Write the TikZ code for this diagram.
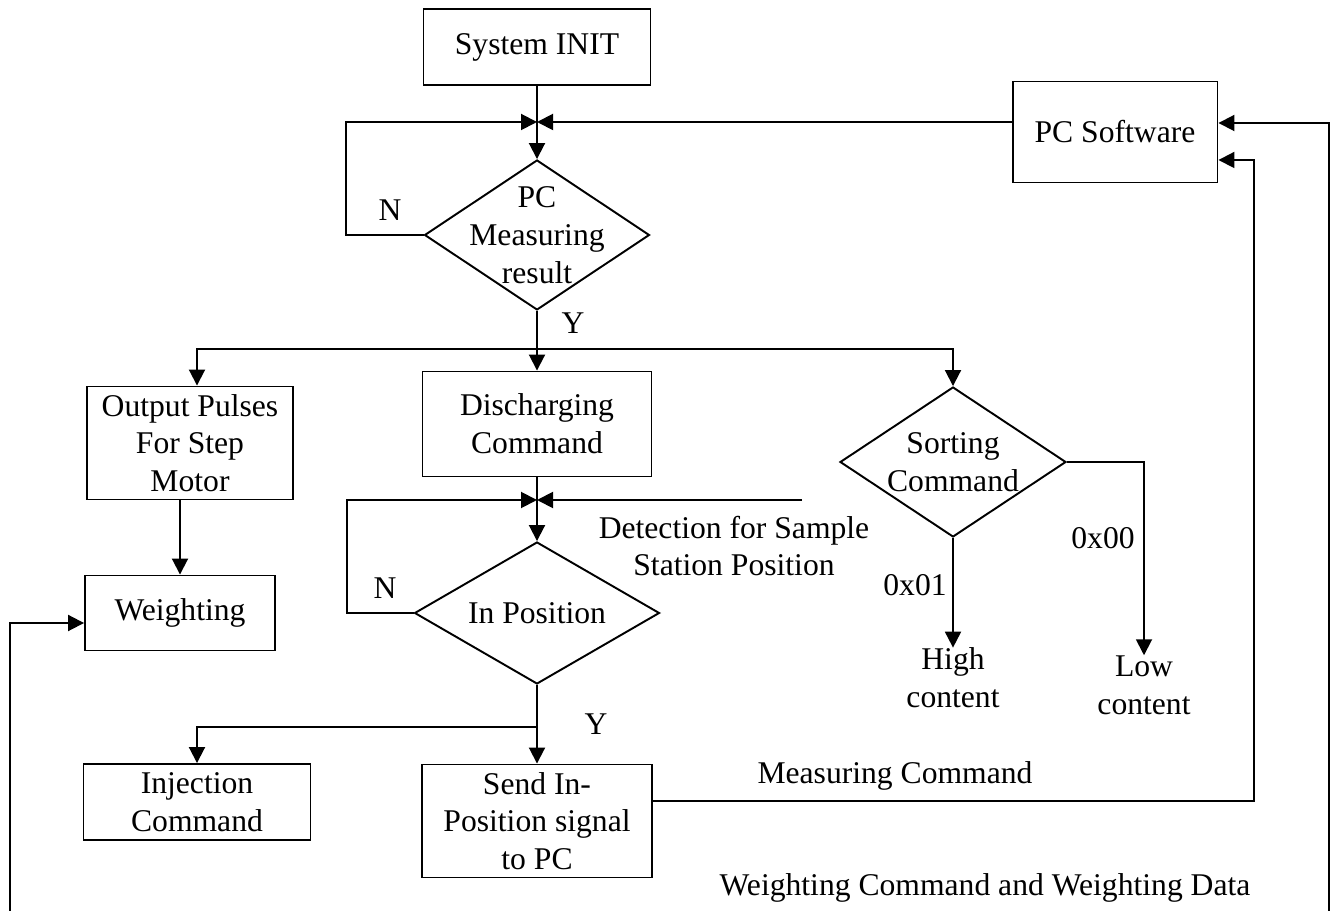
\documentclass[tikz,border=0pt]{standalone}
\usepackage{fontspec}
\setmainfont{Liberation Serif}
\usetikzlibrary{arrows.meta,shapes.geometric}

\tikzset{
    box/.style={draw, line width=1.1pt, align=center, inner sep=0pt},
    decision/.style={diamond, draw, line width=1.1pt, align=center, inner sep=-40pt},
    plain/.style={align=center, inner sep=0pt},
    arr/.style={-{Triangle[length=0.32cm,width=0.32cm]}, line width=1.1pt},
    link/.style={line width=1.1pt}
}

\begin{document}
\begin{tikzpicture}[x=0.02cm, y=-0.02cm, font=\fontsize{18}{21.5}\selectfont]
    \useasboundingbox (0,0) rectangle (1335,911);

    % Main column
    \node[box, minimum width=4.54cm, minimum height=1.52cm] (init) at (537,47) {System INIT};
    \node[box, minimum width=4.1cm, minimum height=2.02cm] (pcsw) at (1115,132) {PC Software};
    \node[decision, minimum width=4.5cm, minimum height=3cm] (pcm) at (537,235) {PC\\Measuring\\result};
    \coordinate (j1) at (537,122);
    \coordinate (bus) at (537,349);

    % Three branches
    \node[box, minimum width=4.12cm, minimum height=2.26cm] (pulse) at (190,443) {Output Pulses\\For Step\\Motor};
    \node[box, minimum width=3.8cm, minimum height=1.5cm] (wgt) at (180,613) {Weighting};
    \node[box, minimum width=4.58cm, minimum height=2.1cm] (disc) at (537,424) {Discharging\\Command};
    \node[decision, minimum width=4.52cm, minimum height=3cm] (sort) at (953,462) {Sorting\\Command};
    \node[plain] (high) at (953,678) {High\\content};
    \node[plain] (low) at (1144,685) {Low\\content};

    % Position check
    \coordinate (j2) at (537,500);
    \coordinate (det) at (802,500);
    \node[decision, minimum width=4.9cm, minimum height=2.84cm] (inpos) at (537,613) {In Position};
    \node[plain] (dettext) at (734,546) {Detection for Sample\\Station Position};
    \coordinate (split) at (537,727);
    \node[box, minimum width=4.54cm, minimum height=1.52cm] (inj) at (197,802) {Injection\\Command};
    \node[box, minimum width=4.6cm, minimum height=2.26cm] (send) at (537,821) {Send In-\\Position signal\\to PC};

    % Feedback lines
    \coordinate (bl) at (10,911);
    \coordinate (br) at (1329,911);
    \coordinate (pcin) at ([yshift=-0.56cm]pcsw.east);
    \node[plain] (meas) at (895,776) {Measuring Command};
    \node[plain] (wdata) at (985,888) {Weighting Command and Weighting Data};

    % Connectors
    \draw[arr] (init) -- (pcm);
    \draw[arr] (pcm.west) -- ++(-78,0) |- (j1);
    \draw[arr] (pcsw.west |- j1) -- (j1);
    \draw[link] (pcm.south) -- (bus);
    \draw[arr] (bus) -- (disc.north);
    \draw[arr] (bus) -| ([xshift=0.14cm]pulse.north);
    \draw[arr] (bus) -| (sort.north);
    \draw[arr] (wgt.north |- pulse.south) -- (wgt.north);
    \draw[link] (disc.south) -- (j2);
    \draw[arr] (j2) -- (inpos.north);
    \draw[arr] (inpos.west) -- ++(-67,0) |- (j2);
    \draw[arr] (det) -- (j2);
    \draw[link] (inpos.south) -- (split);
    \draw[arr] (split) -- (send.north);
    \draw[arr] (split) -| (inj.north);
    \draw[arr] (sort.south) -- (high.north);
    \draw[arr] (sort.east) -| (low.north);
    \draw[arr] ([yshift=0.4cm]send.east) -| ([xshift=0.72cm]pcin) -- (pcin);
    \draw[arr] (br) |- ([yshift=0.18cm]pcsw.east);
    \draw[arr] (bl) |- ([yshift=-0.2cm]wgt.west);

    % Branch labels
    \node[plain] (n1) at (390,210) {N};
    \node[plain] (y1) at (573,323) {Y};
    \node[plain] (n2) at (385,588) {N};
    \node[plain] (y2) at (596,724) {Y};
    \node[plain] (c1) at (915,585) {0x01};
    \node[plain] (c0) at (1103,538) {0x00};
\end{tikzpicture}
\end{document}
